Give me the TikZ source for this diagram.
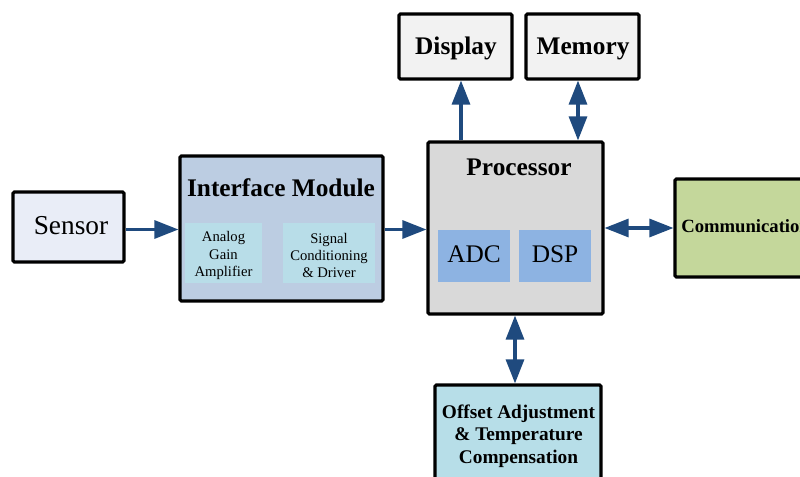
\documentclass[tikz,border=0pt]{standalone}
\usepackage{fontspec}
\setmainfont{Liberation Serif}
\usetikzlibrary{arrows.meta}

\definecolor{arrowblue}{HTML}{1F4A7E}
\definecolor{sensorfill}{HTML}{E9EDF7}
\definecolor{ifacefill}{HTML}{BCCDE2}
\definecolor{innerfill}{HTML}{B8DDE8}
\definecolor{procfill}{HTML}{D9D9D9}
\definecolor{unitfill}{HTML}{8DB3E2}
\definecolor{commfill}{HTML}{C4D79B}
\definecolor{periphfill}{HTML}{F2F2F2}
\definecolor{offsetfill}{HTML}{B7DEE8}

\tikzset{
  blockbox/.style={draw=black, line width=2.4pt, rounded corners=1pt,
    inner sep=0pt, align=center},
  subbox/.style={draw=none, inner sep=0pt, align=center},
  label/.style={inner sep=0pt, anchor=base},
  bigbold/.style={font=\fontsize{19}{22}\selectfont\bfseries},
  bigreg/.style={font=\fontsize{19}{22}\selectfont},
  smallreg/.style={font=\fontsize{11}{12.8}\selectfont},
  midbold/.style={font=\fontsize{14}{17}\selectfont\bfseries},
  flow/.style={draw=arrowblue, line width=2.4pt,
    -{Triangle[length=18pt,width=13.5pt]}},
  flowboth/.style={draw=arrowblue, line width=2.4pt,
    {Triangle[length=18pt,width=13.5pt]}-{Triangle[length=18pt,width=13.5pt]}},
}

\begin{document}
\begin{tikzpicture}[x=0.75pt, y=-0.75pt]
  \useasboundingbox (0,0) rectangle (800,477);
  \clip (0,0) rectangle (800,477);
  \fill[white] (0,0) rectangle (800,477);

  % sensor
  \node[blockbox, fill=sensorfill, minimum width=111*0.75pt,
        minimum height=70*0.75pt] (sensor) at (68.5,227) {};
  \node[label, font=\fontsize{20.5}{24}\selectfont] (sensortxt) at (71,235) {Sensor};

  % interface module
  \node[blockbox, fill=ifacefill, minimum width=203*0.75pt,
        minimum height=145*0.75pt] (iface) at (281.5,228.5) {};
  \node[label, bigbold] (ifacetitle) at (281,197) {Interface Module};
  \node[subbox, fill=innerfill, minimum width=77*0.75pt,
        minimum height=60*0.75pt] (amp) at (223.5,253) {};
  \node[subbox, smallreg] (amptxt) at (223.5,255.5) {Analog\\Gain\\Amplifier};
  \node[subbox, fill=innerfill, minimum width=92*0.75pt,
        minimum height=60*0.75pt] (cond) at (329,253) {};
  \node[subbox, smallreg] (condtxt) at (329,255.5) {Signal\\Conditioning\\\& Driver};

  % processor
  \node[blockbox, fill=procfill, minimum width=175*0.75pt,
        minimum height=172*0.75pt] (proc) at (515.5,228) {};
  \node[label, bigbold] (proctitle) at (519,176) {Processor};
  \node[subbox, fill=unitfill, minimum width=72*0.75pt,
        minimum height=52*0.75pt] (adc) at (474,256) {};
  \node[label, bigreg] (adctxt) at (474,263) {ADC};
  \node[subbox, fill=unitfill, minimum width=72*0.75pt,
        minimum height=52*0.75pt] (dsp) at (555,256) {};
  \node[label, bigreg] (dsptxt) at (555,263) {DSP};

  % communication
  \node[blockbox, fill=commfill, minimum width=154*0.75pt,
        minimum height=98*0.75pt] (comm) at (752,228) {};
  \node[label, midbold, anchor=base west] (commtxt) at (681,233) {Communication};

  % display and memory
  \node[blockbox, fill=periphfill, minimum width=113*0.75pt,
        minimum height=65*0.75pt] (disp) at (455.5,46.5) {};
  \node[label, bigbold] (disptxt) at (456,55) {Display};
  \node[blockbox, fill=periphfill, minimum width=113*0.75pt,
        minimum height=65*0.75pt] (mem) at (582.5,46.5) {};
  \node[label, bigbold] (memtxt) at (583,55) {Memory};

  % offset / temperature compensation
  \node[blockbox, fill=offsetfill, minimum width=166*0.75pt,
        minimum height=114*0.75pt] (offset) at (518,442) {};
  \node[subbox, font=\fontsize{14.5}{17}\selectfont\bfseries]
        (offsettxt) at (518.5,436) {Offset Adjustment\\\& Temperature\\Compensation};

  % connector columns
  \coordinate (dispx) at (461,0);
  \coordinate (memx) at (578,0);
  \coordinate (offx) at (515,0);
  \coordinate (rowy) at (0,229.5);

  % connectors
  \draw[flow] (sensor.east |- rowy) -- (iface.west |- rowy);
  \draw[flow] (iface.east |- rowy) -- (proc.west |- rowy);
  \draw[flowboth] (proc.east |- comm.west) -- (comm.west);
  \draw[flow] (proc.north -| dispx) -- (disp.south -| dispx);
  \draw[flowboth] (proc.north -| memx) -- (mem.south -| memx);
  \draw[flowboth] (proc.south -| offx) -- (offset.north -| offx);
\end{tikzpicture}
\end{document}
